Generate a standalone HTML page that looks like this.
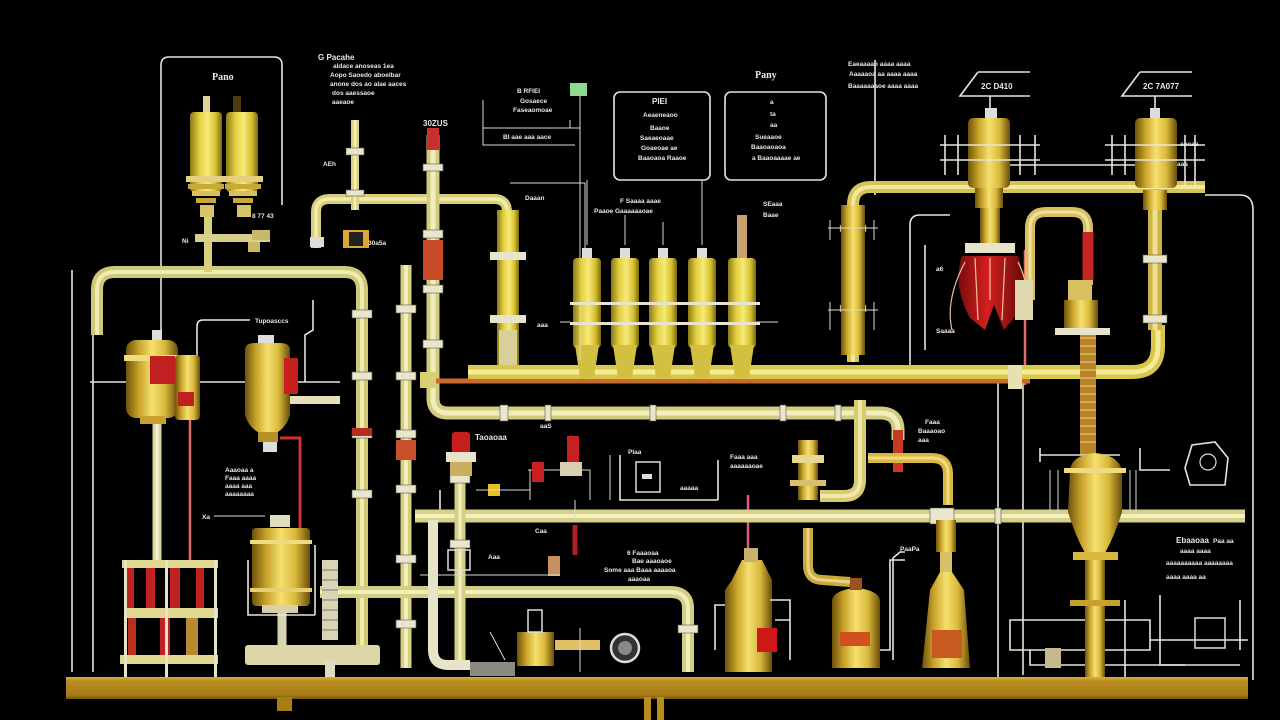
<!DOCTYPE html>
<html><head><meta charset="utf-8">
<style>
html,body{margin:0;padding:0;background:#000;width:1280px;height:720px;overflow:hidden}
svg{display:block}
text{font-family:"Liberation Sans",sans-serif;fill:#e8e8e0;font-weight:bold}
.t{font-size:6.5px}
.m{font-size:8px}
.L{font-size:10px;font-family:"Liberation Serif",serif}
.w{fill:none;stroke:#e6e6dc;stroke-width:1.6}
.wt{fill:none;stroke:#dcdcd0;stroke-width:1}
</style></head>
<body>
<svg width="1280" height="720" viewBox="0 0 1280 720" xmlns="http://www.w3.org/2000/svg">
<defs>
<linearGradient id="g" x1="0" x2="1" y1="0" y2="0">
<stop offset="0" stop-color="#6e520a"/><stop offset="0.25" stop-color="#c9a42a"/><stop offset="0.5" stop-color="#f6e070"/><stop offset="0.75" stop-color="#d8b83a"/><stop offset="1" stop-color="#6a4e08"/>
</linearGradient>
<linearGradient id="gy" x1="0" x2="1" y1="0" y2="0">
<stop offset="0" stop-color="#8a7a14"/><stop offset="0.3" stop-color="#e4d040"/><stop offset="0.55" stop-color="#f6ea7a"/><stop offset="0.8" stop-color="#d6c030"/><stop offset="1" stop-color="#7a6a10"/>
</linearGradient>
<linearGradient id="bar" x1="0" x2="0" y1="0" y2="1">
<stop offset="0" stop-color="#d8ae38"/><stop offset="0.2" stop-color="#b88c1e"/><stop offset="0.8" stop-color="#a87c16"/><stop offset="1" stop-color="#7a5a0c"/>
</linearGradient>
<linearGradient id="rd" x1="0" x2="1" y1="0" y2="0">
<stop offset="0" stop-color="#7a0c0c"/><stop offset="0.45" stop-color="#d42020"/><stop offset="1" stop-color="#6a0a0a"/>
</linearGradient>
</defs>

<!-- thin white frame lines -->
<path class="w" d="M161,330 L161,65 Q161,57 169,57 L274,57 Q282,57 282,65 L282,205"/>
<path class="w" d="M72,270 L72,672"/>
<path class="w" d="M93,330 L93,672"/>
<path class="w" d="M90,382 L340,382"/>
<path class="w" d="M197,382 L197,326 Q197,320 203,320 L250,320"/>
<path class="w" d="M313,300 L313,330 L305,335 L305,382"/>
<path class="w" d="M1205,195 L1240,195 Q1253,195 1253,210 L1253,680"/>
<path class="w" d="M998,380 L998,680"/>
<path class="w" d="M1023,380 L1023,675"/>
<path class="w" d="M875,60 L875,195"/>
<path class="w" d="M910,370 L910,225 Q910,215 920,215 L950,215"/>
<path class="w" d="M925,350 L925,245"/>
<path class="wt" d="M483,100 L483,145 L575,145 M483,128 L580,128 M580,95 L580,360 M570,120 L570,128"/>
<path class="wt" d="M510,183 L585,183 L585,260"/>
<path class="w" d="M1010,650 L1010,620 L1150,620 L1150,650 Z M1030,650 L1030,665 L1240,665 M1240,650 L1240,600 M1150,640 L1248,640"/>
<path class="w" d="M1125,600 L1125,680 M1160,595 L1160,665 L1185,665 M880,650 L890,650 L890,560 L905,560"/>
<path class="w" d="M905,552 L900,552 L893,558 L893,660"/>
<rect x="614" y="92" width="96" height="88" rx="6" class="w"/>
<rect x="725" y="92" width="101" height="88" rx="6" class="w"/>
<path class="w" d="M978,72 L1030,72 M978,72 L960,96 L1030,96 M990,96 L990,110"/>
<path class="w" d="M1140,72 L1192,72 M1140,72 L1122,96 L1192,96 M1155,96 L1155,110"/>
<rect x="570" y="83" width="17" height="13" fill="#8fd88f"/>
<path class="w" d="M440,490 L440,520 M620,455 L620,500 L718,500 M718,460 L718,500"/>
<path class="w" d="M1185,468 L1192,445 L1215,442 L1228,458 L1225,485 L1190,485 Z"/>
<circle cx="1208" cy="462" r="8" fill="none" stroke="#ddd" stroke-width="1.2"/>

<!-- red thin lines -->
<path d="M190,380 L190,560" stroke="#e26a6a" stroke-width="2.5" fill="none"/>
<path d="M280,438 L300,438 L300,533" stroke="#d03030" stroke-width="3" fill="none"/>
<path d="M1025,250 L1025,385" stroke="#e07070" stroke-width="2.5" fill="none"/>
<path d="M748,495 L748,560" stroke="#e05a7a" stroke-width="2.5" fill="none"/>
<path d="M575,525 L575,555" stroke="#b02020" stroke-width="5" fill="none"/>

<!-- PIPES -->
<g fill="none" stroke-linecap="butt">
<path d="M97,335 L97,290 Q97,272 115,272 L344,272 Q362,272 362,290 L362,645" stroke="#cfc878" stroke-width="12"/>
<path d="M97,335 L97,290 Q97,272 115,272 L344,272 Q362,272 362,290 L362,645" stroke="#f0ebb0" stroke-width="4"/>
<path d="M316,248 L316,212 Q316,199 330,199 L494,199 Q507,199 507,212 L507,235" stroke="#d6cf7c" stroke-width="10"/>
<path d="M316,248 L316,212 Q316,199 330,199 L494,199 Q507,199 507,212 L507,235" stroke="#f2eca8" stroke-width="3.5"/>
<path d="M355,120 L355,210" stroke="#d8d080" stroke-width="8"/>
<path d="M355,120 L355,210" stroke="#f4eeb4" stroke-width="3"/>
<path d="M433,135 L433,398 Q433,413 448,413 L880,413 Q898,413 898,430 L898,440" stroke="#d2cc80" stroke-width="13"/>
<path d="M433,135 L433,398 Q433,413 448,413 L880,413 Q898,413 898,430 L898,440" stroke="#f2eebc" stroke-width="5"/>
<path d="M898,430 L898,472" stroke="#c63a22" stroke-width="10"/>
<path d="M406,265 L406,668" stroke="#d4ce82" stroke-width="11"/>
<path d="M406,265 L406,668" stroke="#f2eebc" stroke-width="4"/>
<path d="M415,516 L1245,516" stroke="#d6d088" stroke-width="13"/>
<path d="M415,516 L1245,516" stroke="#f4f0c0" stroke-width="4"/>
<path d="M320,592 L670,592 Q688,592 688,608 L688,672" stroke="#d4ce84" stroke-width="12"/>
<path d="M320,592 L670,592 Q688,592 688,608 L688,672" stroke="#f2eebc" stroke-width="4"/>
<path d="M460,445 L460,665" stroke="#d4ce84" stroke-width="11"/>
<path d="M460,445 L460,665" stroke="#f0ecb8" stroke-width="3.5"/>
<path d="M433,520 L433,650 Q433,665 448,665 L470,665" stroke="#e8e4c8" stroke-width="10"/>
<path d="M860,400 L860,480 Q860,496 844,496 L820,496" stroke="#d6cc72" stroke-width="12"/>
<path d="M860,400 L860,480 Q860,496 844,496 L820,496" stroke="#f0e8a8" stroke-width="4"/>
<path d="M868,458 L932,458 Q948,458 948,474 L948,505" stroke="#d8b840" stroke-width="10"/>
<path d="M868,458 L932,458 Q948,458 948,474 L948,505" stroke="#f2da80" stroke-width="3"/>
<path d="M808,528 L808,565 Q808,580 823,580 L850,582" stroke="#c8aa40" stroke-width="10"/>
<path d="M808,528 L808,565 Q808,580 823,580 L850,582" stroke="#ecd27c" stroke-width="3"/>
<path d="M420,381 L1030,381" stroke="#c86a30" stroke-width="5"/>
<path d="M468,372 L1132,372 Q1158,372 1158,346 L1158,325" stroke="#d8c84a" stroke-width="14"/>
<path d="M468,372 L1132,372 Q1158,372 1158,346 L1158,325" stroke="#f4ea98" stroke-width="5"/>
<path d="M280,400 L340,400" stroke="#e6e2b8" stroke-width="8"/>
<path d="M853,362 L853,205 Q853,187 871,187 L1205,187" stroke="#d4c458" stroke-width="12"/>
<path d="M853,362 L853,205 Q853,187 871,187 L1205,187" stroke="#f2e8a0" stroke-width="4"/>
<path d="M1030,300 L1030,228 Q1030,212 1046,212 L1072,212 Q1088,212 1088,228 L1088,285" stroke="#d8c060" stroke-width="10"/>
<path d="M1030,300 L1030,228 Q1030,212 1046,212 L1072,212 Q1088,212 1088,228 L1088,285" stroke="#f0e0a0" stroke-width="3"/>
<path d="M1088,232 L1088,280" stroke="#c42424" stroke-width="11"/>
<path d="M1155,195 L1155,330" stroke="#ccb448" stroke-width="14"/>
<path d="M1155,195 L1155,330" stroke="#f0e090" stroke-width="5"/>
<path d="M208,215 L208,272" stroke="#d8cf7c" stroke-width="8"/>
<path d="M157,420 L157,562" stroke="#dad4a0" stroke-width="9"/>
<path d="M157,420 L157,562" stroke="#f4f0d0" stroke-width="3"/>
<path d="M282,605 L282,650" stroke="#d8d4b0" stroke-width="9"/>
</g>

<!-- ribbed column -->
<rect x="1080" y="320" width="16" height="135" fill="#b8862a"/>
<g stroke="#e0b860" stroke-width="1.5">
<path d="M1080,330 H1096 M1080,338 H1096 M1080,346 H1096 M1080,354 H1096 M1080,362 H1096 M1080,370 H1096 M1080,378 H1096 M1080,386 H1096 M1080,394 H1096 M1080,402 H1096 M1080,410 H1096 M1080,418 H1096 M1080,426 H1096 M1080,434 H1096 M1080,442 H1096"/>
</g>

<!-- flanges -->
<g fill="#e9e6cc" stroke="#555" stroke-width="0.6">
<rect x="346" y="148" width="18" height="7"/><rect x="346" y="190" width="18" height="6"/>
<rect x="423" y="164" width="20" height="7"/><rect x="423" y="230" width="20" height="8"/><rect x="423" y="285" width="20" height="8"/><rect x="423" y="340" width="20" height="8"/>
<rect x="396" y="305" width="20" height="8"/><rect x="396" y="372" width="20" height="8"/><rect x="396" y="430" width="20" height="8"/><rect x="396" y="485" width="20" height="8"/><rect x="396" y="555" width="20" height="8"/><rect x="396" y="620" width="20" height="8"/>
<rect x="352" y="310" width="20" height="8"/><rect x="352" y="372" width="20" height="8"/><rect x="352" y="430" width="20" height="8"/><rect x="352" y="490" width="20" height="8"/>
<rect x="450" y="475" width="20" height="8"/><rect x="450" y="540" width="20" height="8"/>
<rect x="500" y="405" width="8" height="16"/><rect x="545" y="405" width="6" height="16"/><rect x="650" y="405" width="6" height="16"/><rect x="780" y="405" width="6" height="16"/><rect x="835" y="405" width="6" height="16"/>
<rect x="930" y="508" width="24" height="16"/><rect x="995" y="508" width="6" height="16"/>
<rect x="678" y="625" width="20" height="8"/>
<rect x="1143" y="255" width="24" height="8"/><rect x="1143" y="315" width="24" height="8"/>
<rect x="840" y="225" width="26" height="7"/><rect x="840" y="305" width="26" height="7"/>
</g>
<rect x="423" y="240" width="20" height="40" fill="#c84a28"/>
<rect x="396" y="440" width="20" height="20" fill="#c8502a"/>
<rect x="352" y="428" width="20" height="8" fill="#b82a20"/>
<rect x="427" y="128" width="12" height="22" fill="#c83030"/>
<rect x="420" y="372" width="16" height="16" fill="#d9d070"/>
<rect x="1008" y="365" width="14" height="24" fill="#e8e0b0"/>

<!-- left top twin cylinders -->
<rect x="203" y="96" width="7" height="18" fill="#e0d49a"/>
<rect x="233" y="96" width="8" height="18" fill="#4a3a10"/>
<rect x="190" y="112" width="32" height="80" rx="4" fill="url(#gy)"/>
<rect x="226" y="112" width="32" height="80" rx="4" fill="url(#gy)"/>
<rect x="186" y="176" width="40" height="6" fill="#e4d080"/><rect x="223" y="176" width="40" height="6" fill="#e4d080"/>
<rect x="188" y="184" width="36" height="5" fill="#c8a83a"/><rect x="225" y="184" width="36" height="5" fill="#c8a83a"/>
<rect x="192" y="191" width="28" height="5" fill="#d8c060"/><rect x="229" y="191" width="28" height="5" fill="#d8c060"/>
<rect x="196" y="198" width="20" height="5" fill="#c8a83a"/><rect x="233" y="198" width="20" height="5" fill="#c8a83a"/>
<rect x="200" y="205" width="14" height="12" fill="#d8c468"/><rect x="237" y="205" width="14" height="12" fill="#d8c468"/>
<rect x="195" y="234" width="75" height="8" fill="#d8d08a"/>
<rect x="252" y="230" width="18" height="10" fill="#c8b868"/>
<rect x="248" y="242" width="12" height="10" fill="#c8b868"/>

<rect x="343" y="230" width="26" height="18" fill="#d8a830"/>
<rect x="349" y="232" width="14" height="14" fill="#222"/>
<rect x="310" y="237" width="14" height="10" fill="#ddd"/>

<!-- left mid vessel -->
<rect x="152" y="330" width="10" height="12" fill="#ddd"/>
<rect x="126" y="340" width="52" height="78" rx="10" fill="url(#g)"/>
<rect x="124" y="355" width="56" height="6" fill="#f0dc80"/>
<rect x="150" y="356" width="25" height="28" fill="#c02020"/>
<rect x="175" y="355" width="25" height="65" rx="4" fill="url(#g)"/>
<rect x="178" y="392" width="16" height="14" fill="#c02020"/>
<rect x="140" y="416" width="26" height="8" fill="#c8a030"/>

<!-- mid vessel -->
<rect x="258" y="335" width="16" height="12" fill="#ddd"/>
<path d="M245,350 Q245,343 255,343 L280,343 Q290,343 290,350 L290,415 Q285,432 268,436 Q250,432 245,415 Z" fill="url(#g)"/>
<rect x="284" y="358" width="14" height="36" fill="#c81e1e"/>
<rect x="258" y="432" width="20" height="10" fill="#b89028"/>
<rect x="263" y="442" width="14" height="10" fill="#ddd"/>

<!-- bottom left frame -->
<rect x="122" y="560" width="96" height="8" fill="#e0d890"/>
<rect x="126" y="568" width="8" height="40" fill="#c02222"/>
<rect x="146" y="568" width="9" height="40" fill="#c02222"/>
<rect x="170" y="568" width="10" height="40" fill="#c02222"/>
<rect x="196" y="568" width="8" height="40" fill="#c02222"/>
<rect x="124" y="608" width="94" height="10" fill="#e0d890"/>
<rect x="128" y="618" width="8" height="38" fill="#b83020"/>
<rect x="160" y="618" width="10" height="38" fill="#c02222"/>
<rect x="186" y="618" width="12" height="38" fill="#b88a30"/>
<rect x="120" y="655" width="98" height="9" fill="#e0d890"/>
<g fill="#e8e4c8"><rect x="124" y="560" width="3" height="118"/><rect x="214" y="560" width="3" height="118"/><rect x="165" y="560" width="3" height="118"/></g>

<!-- bottom vessel 250-315 -->
<rect x="270" y="515" width="20" height="12" fill="#e0dcc0"/>
<rect x="252" y="528" width="58" height="78" rx="4" fill="url(#g)"/>
<rect x="250" y="540" width="62" height="4" fill="#f0dc80"/>
<rect x="250" y="588" width="62" height="4" fill="#e8d070"/>
<path class="w" d="M248,560 L248,615 L315,615 M315,545 L315,615"/>
<rect x="262" y="605" width="36" height="8" fill="#d8d0a8"/>
<rect x="245" y="645" width="135" height="20" rx="3" fill="#dcd6a8"/>
<rect x="325" y="660" width="10" height="18" fill="#e0dcc0"/>
<rect x="322" y="560" width="16" height="80" fill="#d8d4b4"/>
<g stroke="#777" stroke-width="1"><path d="M322,570 H338 M322,580 H338 M322,590 H338 M322,600 H338 M322,610 H338 M322,620 H338 M322,630 H338"/></g>

<!-- vessel at 505 -->
<rect x="497" y="210" width="22" height="155" fill="url(#gy)"/>
<rect x="490" y="252" width="36" height="8" fill="#e8e4cc"/>
<rect x="490" y="315" width="36" height="8" fill="#e8e4cc"/>
<rect x="499" y="330" width="18" height="35" fill="#d8d098"/>

<!-- five vessels -->
<g>
<rect x="582" y="248" width="10" height="10" fill="#ddd"/>
<rect x="573" y="258" width="28" height="90" rx="4" fill="url(#gy)"/>
<path d="M575,345 L599,345 L594,378 L580,378 Z" fill="#d4c040"/>
<rect x="620" y="248" width="10" height="10" fill="#ddd"/>
<rect x="611" y="258" width="28" height="90" rx="4" fill="url(#gy)"/>
<path d="M613,345 L637,345 L632,378 L618,378 Z" fill="#d4c040"/>
<rect x="658" y="248" width="10" height="10" fill="#ddd"/>
<rect x="649" y="258" width="28" height="90" rx="4" fill="url(#gy)"/>
<path d="M651,345 L675,345 L670,378 L656,378 Z" fill="#d4c040"/>
<rect x="697" y="248" width="10" height="10" fill="#ddd"/>
<rect x="688" y="258" width="28" height="90" rx="4" fill="url(#gy)"/>
<path d="M690,345 L714,345 L709,378 L695,378 Z" fill="#d4c040"/>
<rect x="737" y="215" width="10" height="43" fill="#c8a070"/>
<rect x="728" y="258" width="28" height="90" rx="4" fill="url(#gy)"/>
<path d="M730,345 L754,345 L749,378 L735,378 Z" fill="#d4c040"/>
<g fill="#e8e4cc"><rect x="570" y="302" width="190" height="3"/><rect x="570" y="322" width="190" height="3"/></g>
<g class="wt"><path d="M587,245 V180 M625,245 V215 M663,245 V222 M702,245 V180 M580,305 V360 M560,322 H570 M756,322 H778"/></g>
</g>

<!-- right vertical pipe 853 vessel -->
<rect x="841" y="205" width="24" height="150" fill="url(#g)"/>
<g class="wt"><path d="M828,228 H878 M828,310 H878 M830,220 V240 M874,220 V240 M830,302 V330 M874,302 V330"/></g>

<!-- big top vessel 990 -->
<rect x="985" y="108" width="12" height="12" fill="#ddd"/>
<rect x="968" y="118" width="42" height="70" rx="5" fill="url(#g)"/>
<rect x="975" y="188" width="28" height="20" fill="url(#g)"/>
<rect x="980" y="208" width="20" height="40" fill="url(#g)"/>
<g class="w"><path d="M940,145 H1040 M940,160 H1040 M945,135 V175 M958,135 V175 M1020,135 V175 M1035,135 V175 M1010,165 H1140"/></g>
<rect x="965" y="243" width="50" height="10" fill="#e8e4cc"/>
<path d="M962,256 L1018,256 Q1030,285 1014,318 L1004,330 L994,305 L985,330 L970,318 Q952,285 962,256 Z" fill="url(#rd)"/>
<path d="M975,258 L978,320 M990,258 L990,300 M1005,258 L1002,320" stroke="#f4c0a0" stroke-width="1.2" fill="none"/>
<path d="M965,262 Q945,300 952,330 M1018,262 Q1032,290 1024,320" stroke="#e8c0a0" stroke-width="1.2" fill="none"/>
<rect x="1015" y="280" width="18" height="40" fill="#e0d8b0"/>

<!-- right top vessel 1155 -->
<rect x="1150" y="108" width="10" height="12" fill="#ddd"/>
<rect x="1135" y="118" width="42" height="70" rx="5" fill="url(#g)"/>
<g class="w"><path d="M1105,145 H1205 M1105,160 H1205 M1112,135 V175 M1125,135 V175 M1185,135 V185 M1195,135 V185"/></g>
<rect x="1143" y="190" width="24" height="20" fill="url(#g)"/>

<!-- valve assembly -->
<rect x="1068" y="280" width="24" height="20" fill="#d8c060"/>
<rect x="1064" y="300" width="34" height="30" fill="url(#g)"/>
<rect x="1055" y="328" width="55" height="7" fill="#e8e4cc"/>

<!-- big bottom right vessel -->
<path class="w" d="M1040,455 L1120,455 M1040,448 V462 M1140,448 V470 L1170,470"/>
<path d="M1070,470 Q1072,455 1095,453 Q1118,455 1122,470 L1122,512 Q1115,535 1105,553 L1085,553 Q1075,535 1068,512 Z" fill="url(#g)"/>
<rect x="1064" y="468" width="62" height="5" fill="#f0dc80"/>
<rect x="1073" y="552" width="45" height="8" fill="#d8b840"/>
<rect x="1085" y="560" width="20" height="118" fill="url(#g)"/>
<rect x="1070" y="600" width="50" height="6" fill="#c8a030"/>
<g class="wt"><path d="M1050,470 V515 M1058,470 V515 M1130,470 V515 M1136,470 V515"/></g>
<rect x="1045" y="648" width="16" height="20" fill="#c8b890"/>
<rect x="1195" y="618" width="30" height="30" fill="none" stroke="#ddd" stroke-width="1.5"/>

<!-- bottom vessels -->
<path d="M732,580 L742,560 L762,560 L772,580 L772,672 L725,672 L725,590 Z" fill="url(#g)"/>
<rect x="744" y="548" width="14" height="14" fill="#c8b070"/>
<rect x="757" y="628" width="20" height="24" fill="#d01818"/>
<path class="w" d="M725,605 H715 V650 M770,600 H790 V660 M775,620 H790"/>
<path d="M832,600 Q834,590 856,588 Q878,590 880,600 L880,668 L832,668 Z" fill="url(#g)"/>
<rect x="850" y="578" width="12" height="12" fill="#a05020"/>
<rect x="840" y="632" width="30" height="14" fill="#d05020"/>
<path d="M930,590 L940,572 L952,572 L964,590 L970,668 L922,668 Z" fill="url(#g)"/>
<rect x="936" y="520" width="20" height="32" fill="url(#g)"/>
<rect x="940" y="552" width="12" height="20" fill="#d8c068"/>
<rect x="932" y="630" width="30" height="28" fill="#c85a20"/>
<rect x="798" y="440" width="20" height="60" fill="url(#g)"/>
<rect x="792" y="455" width="32" height="8" fill="#e8d890"/>
<rect x="790" y="480" width="36" height="6" fill="#d8c070"/>

<!-- left-of-center devices -->
<rect x="452" y="432" width="18" height="22" rx="3" fill="#c81e1e"/>
<rect x="446" y="452" width="30" height="10" fill="#e8e4cc"/>
<rect x="450" y="462" width="22" height="14" fill="#c8b060"/>
<rect x="488" y="484" width="12" height="12" fill="#e8c020"/>
<path class="wt" d="M476,490 H530 M530,470 V500 M528,470 H590 V500"/>
<rect x="532" y="462" width="12" height="20" fill="#c82020"/>
<rect x="567" y="436" width="12" height="28" fill="#c82020"/>
<rect x="560" y="462" width="22" height="14" fill="#d8d0b0"/>
<rect x="636" y="462" width="24" height="30" fill="none" stroke="#ddd" stroke-width="1.5"/>
<rect x="642" y="474" width="10" height="5" fill="#ddd"/>
<path class="wt" d="M575,500 V520 M610,455 V500"/>
<rect x="448" y="550" width="22" height="20" fill="none" stroke="#ddd" stroke-width="1.5"/>
<rect x="548" y="556" width="12" height="20" fill="#c89060"/>
<path class="wt" d="M420,575 H560"/>
<rect x="517" y="632" width="37" height="34" fill="url(#g)"/>
<rect x="528" y="610" width="14" height="22" fill="none" stroke="#ddd" stroke-width="1.5"/>
<path d="M555,645 L600,645" stroke="#e0c060" stroke-width="10"/>
<circle cx="625" cy="648" r="14" fill="#333" stroke="#ddd" stroke-width="2.5"/>
<circle cx="625" cy="648" r="7" fill="#888"/>
<rect x="470" y="662" width="45" height="14" fill="#8a8a80"/>
<path class="wt" d="M490,632 L505,660 M580,628 V672"/>

<!-- bottom bar -->
<rect x="66" y="677" width="1182" height="22" fill="url(#bar)"/>
<rect x="277" y="697" width="15" height="14" fill="#a87c16"/>
<rect x="644" y="697" width="7" height="23" fill="#b88c1e"/>
<rect x="657" y="697" width="7" height="23" fill="#b88c1e"/>

<!-- labels -->
<text x="212" y="80" class="L">Pano</text>
<text x="318" y="60" class="m">G Pacahe</text>
<text x="333" y="68" class="t">aldace  anoseas 1ea</text>
<text x="330" y="77" class="t">Aopo Saoedo aboelbar</text>
<text x="330" y="86" class="t">anone dos ao  alae aaces</text>
<text x="332" y="95" class="t">dos aaessaoe</text>
<text x="332" y="104" class="t">aaeaoe</text>
<text x="323" y="166" class="t">AEh</text>
<text x="252" y="218" class="t">8 77 43</text>
<text x="182" y="243" class="t">Ni</text>
<text x="368" y="245" class="t">30a5a</text>
<text x="423" y="126" class="m">30ZUS</text>
<text x="255" y="323" class="t">Tupoasccs</text>
<text x="517" y="93" class="t">B RFIEI</text>
<text x="520" y="103" class="t">Gosaece</text>
<text x="513" y="112" class="t">Faseaomoae</text>
<text x="503" y="139" class="t">BI aae aaa aace</text>
<text x="755" y="78" class="L">Pany</text>
<text x="652" y="104" class="m">PIEI</text>
<text x="643" y="117" class="t">Aeaeneaoo</text>
<text x="650" y="130" class="t">Baaoe</text>
<text x="640" y="140" class="t">Saeaeoaae</text>
<text x="641" y="150" class="t">Goaeoae ae</text>
<text x="638" y="160" class="t">Baaoaoa Raaoe</text>
<text x="770" y="104" class="t">a</text>
<text x="770" y="116" class="t">ta</text>
<text x="770" y="127" class="t">aa</text>
<text x="755" y="139" class="t">Sueaaoe</text>
<text x="751" y="149" class="t">Baaoaoaoa</text>
<text x="752" y="160" class="t">a Baaoaaaae ae</text>
<text x="525" y="200" class="t">Daaan</text>
<text x="620" y="203" class="t">F Saaaa aaae</text>
<text x="594" y="213" class="t">Paaoe Gaaaaaaoae</text>
<text x="763" y="206" class="t">SEaaa</text>
<text x="763" y="217" class="t">Baae</text>
<text x="537" y="327" class="t">aaa</text>
<text x="848" y="66" class="t">Eaeaaaao aaaa aaaa</text>
<text x="849" y="76" class="t">Aaaaaoa aa  aaaa aaaa</text>
<text x="848" y="88" class="t">Baaaaaaaoe aaaa aaaa</text>
<text x="981" y="89" class="m">2C D410</text>
<text x="1143" y="89" class="m">2C 7A077</text>
<text x="1180" y="146" class="t">aaoaa</text>
<text x="1177" y="166" class="t">aaa</text>
<text x="936" y="271" class="t">a6</text>
<text x="936" y="333" class="t">Saaaa</text>
<text x="475" y="440" class="m">Taoaoaa</text>
<text x="540" y="428" class="t">aaS</text>
<text x="628" y="454" class="t">Plaa</text>
<text x="730" y="459" class="t">Faaa aaa</text>
<text x="730" y="468" class="t">aaaaaaoae</text>
<text x="680" y="490" class="t">aaaaa</text>
<text x="925" y="424" class="t">Faaa</text>
<text x="918" y="433" class="t">Baaaoao</text>
<text x="918" y="442" class="t">aaa</text>
<text x="225" y="472" class="t">Aaaoaa a</text>
<text x="225" y="480" class="t">Faaa aaaa</text>
<text x="225" y="488" class="t">aaaa aaa</text>
<text x="225" y="496" class="t">aaaaaaaa</text>
<text x="202" y="519" class="t">Xa</text>
<path class="wt" d="M214,516 L265,516"/>
<text x="900" y="551" class="t">PaaPa</text>
<text x="1176" y="543" class="m">Ebaaoaa</text>
<text x="1213" y="543" class="t">Paa aa</text>
<text x="1180" y="553" class="t">aaaa aaaa</text>
<text x="1166" y="565" class="t">aaaaaaaaaa aaaaaaaa</text>
<text x="1166" y="579" class="t">aaaa aaaa aa</text>
<text x="627" y="555" class="t">6 Faaaoaa</text>
<text x="632" y="563" class="t">Bae aaaoaoe</text>
<text x="604" y="572" class="t">Some aaa Baaa aaaaoa</text>
<text x="628" y="581" class="t">aaaoaa</text>
<text x="488" y="559" class="t">Aaa</text>
<text x="535" y="533" class="t">Caa</text>
</svg>
</body></html>
